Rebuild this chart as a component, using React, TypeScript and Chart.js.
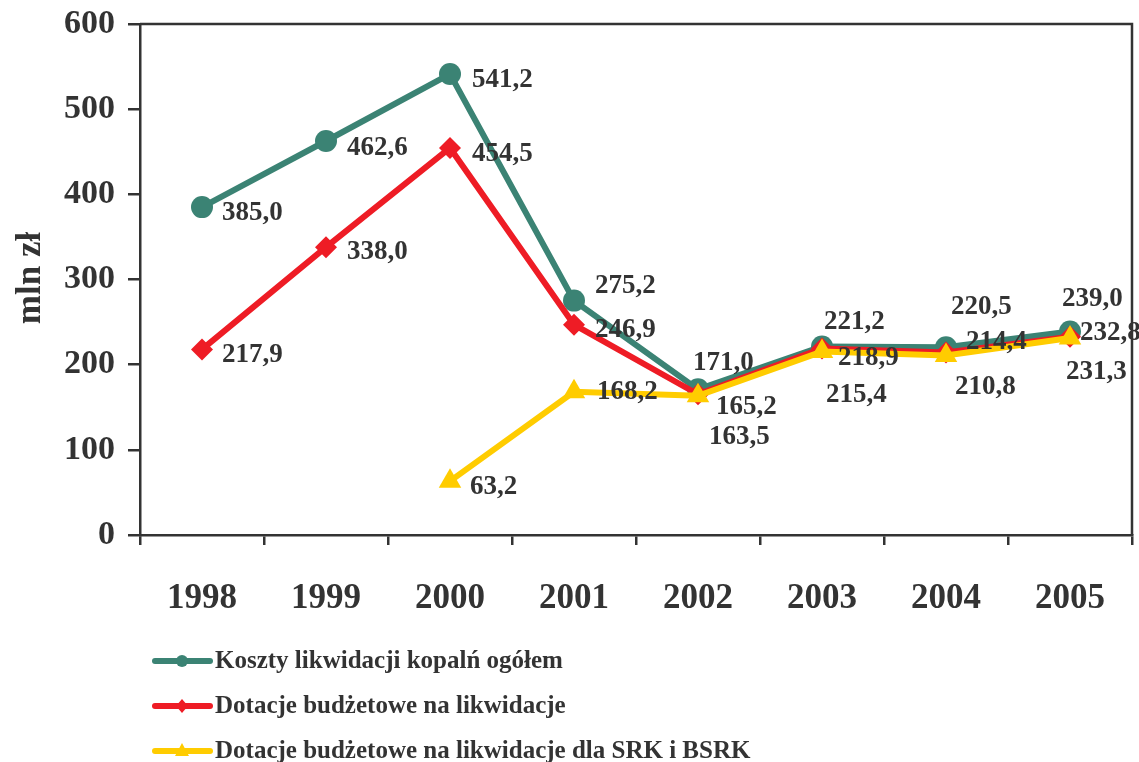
import React, { useEffect, useRef } from "react";
import { Chart, registerables } from "chart.js";

Chart.register(...registerables);

const years = ["1998", "1999", "2000", "2001", "2002", "2003", "2004", "2005"];
const kosztyOgolem = [385.0, 462.6, 541.2, 275.2, 171.0, 221.2, 220.5, 239.0];
const dotacje = [217.9, 338.0, 454.5, 246.9, 165.2, 218.9, 214.4, 232.8];
const dotacjeSRK = [null, null, 63.2, 168.2, 163.5, 215.4, 210.8, 231.3];
const seriesNames = [
  "Koszty likwidacji kopalń ogółem",
  "Dotacje budżetowe na likwidacje",
  "Dotacje budżetowe na likwidacje dla SRK i BSRK",
];
const yTicks = [0, 100, 200, 300, 400, 500, 600];

// label offsets (dx, dy) relative to each point
const offsA = [[20, 6], [21, 7], [22, 6], [21, -15], [-5, -26], [2, -25], [5, -40], [-8, -32]];
const offsB = [[20, 6], [21, 5], [22, 6], [21, 5], [18, 13], [16, 9], [20, -10], [10, -4]];
const offsC = [[0, 0], [0, 0], [20, 6], [23, 0], [11, 41], [4, 43], [9, 32], [-4, 34]];

const TEXT = "#333333";
const TEAL = "#3b8374";
const RED = "#ee1c25";
const YELLOW = "#ffcc00";
const FONT = "'Liberation Serif', 'Times New Roman', serif";

const fmt = (v: number) => v.toFixed(1).replace(".", ",");

const overlayPlugin = {
  id: "overlay",
  afterDatasetsDraw(chart: any) {
    const ctx = chart.ctx;
    const ca = chart.chartArea;
    ctx.save();
    // top and right border
    ctx.strokeStyle = TEXT;
    ctx.lineWidth = 2.5;
    ctx.beginPath();
    ctx.moveTo(ca.left, ca.top);
    ctx.lineTo(ca.right, ca.top);
    ctx.lineTo(ca.right, ca.bottom);
    ctx.stroke();

    // data labels
    const offsets = [offsA, offsB, offsC];
    ctx.fillStyle = TEXT;
    ctx.font = `bold 27px ${FONT}`;
    ctx.textAlign = "left";
    ctx.textBaseline = "middle";
    chart.data.datasets.forEach((ds: any, di: number) => {
      const meta = chart.getDatasetMeta(di);
      ds.data.forEach((v: number | null, i: number) => {
        if (v === null || v === undefined) return;
        const el = meta.data[i];
        const [dx, dy] = offsets[di][i];
        ctx.fillText(fmt(v), el.x + dx, el.y + dy);
      });
    });

    // y axis title
    ctx.save();
    ctx.translate(31, 278);
    ctx.rotate(-Math.PI / 2);
    ctx.textAlign = "center";
    ctx.textBaseline = "middle";
    ctx.font = `bold 35px ${FONT}`;
    ctx.fillText("mln zł", 0, 0);
    ctx.restore();

    // legend
    const colors = [TEAL, RED, YELLOW];
    const styles = ["circle", "diamond", "triangle"];
    const rows = [661, 706, 751];
    ctx.font = `bold 25px ${FONT}`;
    ctx.textBaseline = "middle";
    seriesNames.forEach((name, i) => {
      const y = rows[i];
      ctx.strokeStyle = colors[i];
      ctx.fillStyle = colors[i];
      ctx.lineWidth = 6;
      ctx.lineCap = "round";
      ctx.beginPath();
      ctx.moveTo(155, y);
      ctx.lineTo(210, y);
      ctx.stroke();
      const cx = 182;
      ctx.beginPath();
      if (styles[i] === "circle") {
        ctx.arc(cx, y, 6, 0, Math.PI * 2);
      } else if (styles[i] === "diamond") {
        ctx.moveTo(cx, y - 7);
        ctx.lineTo(cx + 6, y);
        ctx.lineTo(cx, y + 7);
        ctx.lineTo(cx - 6, y);
        ctx.closePath();
      } else {
        ctx.moveTo(cx, y - 8);
        ctx.lineTo(cx + 7, y + 5);
        ctx.lineTo(cx - 7, y + 5);
        ctx.closePath();
      }
      ctx.fill();
      ctx.fillStyle = TEXT;
      ctx.fillText(name, 215, y + 1);
    });
    ctx.restore();
  },
};

export default function App() {
  const ref = useRef<HTMLCanvasElement | null>(null);
  useEffect(() => {
    if (!ref.current) return;
    document.body.style.overflow = "hidden";
    const chart = new Chart(ref.current, {
      type: "line",
      data: {
        labels: years,
        datasets: [
          {
            label: seriesNames[0],
            data: kosztyOgolem,
            borderColor: TEAL,
            backgroundColor: TEAL,
            borderWidth: 6,
            pointStyle: "circle",
            pointRadius: 11,
            pointBorderWidth: 0,
            order: 3,
          },
          {
            label: seriesNames[1],
            data: dotacje,
            borderColor: RED,
            backgroundColor: RED,
            borderWidth: 6,
            pointStyle: "rectRot",
            pointRadius: 11,
            pointBorderWidth: 0,
            order: 2,
          },
          {
            label: seriesNames[2],
            data: dotacjeSRK,
            borderColor: YELLOW,
            backgroundColor: YELLOW,
            borderWidth: 6,
            pointStyle: "triangle",
            pointRadius: 13,
            pointBorderWidth: 0,
            order: 1,
          },
        ],
      },
      options: {
        animation: false,
        responsive: true,
        maintainAspectRatio: false,
        layout: { padding: { top: 24, right: 1, left: 0, bottom: 0 } },
        plugins: { legend: { display: false }, tooltip: { enabled: false } },
        scales: {
          x: {
            offset: true,
            grid: {
              offset: true,
              drawOnChartArea: false,
              drawTicks: true,
              tickLength: 10,
              color: TEXT,
              lineWidth: 2.5,
            },
            border: { color: TEXT, width: 2.5 },
            ticks: {
              color: TEXT,
              font: { family: FONT, size: 35, weight: "bold" },
              padding: 33,
              maxRotation: 0,
            },
            afterFit: (s: any) => {
              s.height = 227;
              s.paddingLeft = 0;
              s.paddingRight = 0;
            },
          },
          y: {
            min: 0,
            max: 600,
            afterBuildTicks: (s: any) => {
              s.ticks = yTicks.map((v) => ({ value: v }));
            },
            grid: {
              drawOnChartArea: false,
              drawTicks: true,
              tickLength: 12,
              color: TEXT,
              lineWidth: 2.5,
            },
            border: { color: TEXT, width: 2.5 },
            ticks: {
              color: TEXT,
              font: { family: FONT, size: 34, weight: "bold" },
              padding: 13,
            },
            afterFit: (s: any) => {
              s.width = 140;
              s.paddingTop = 0;
              s.paddingBottom = 0;
            },
          },
        },
      },
      plugins: [overlayPlugin],
    });
    return () => chart.destroy();
  }, []);
  return (
    <div style={{ position: "fixed", left: 0, top: 0, width: 1145, height: 762, background: "#fff" }}>
      <canvas ref={ref} />
    </div>
  );
}
